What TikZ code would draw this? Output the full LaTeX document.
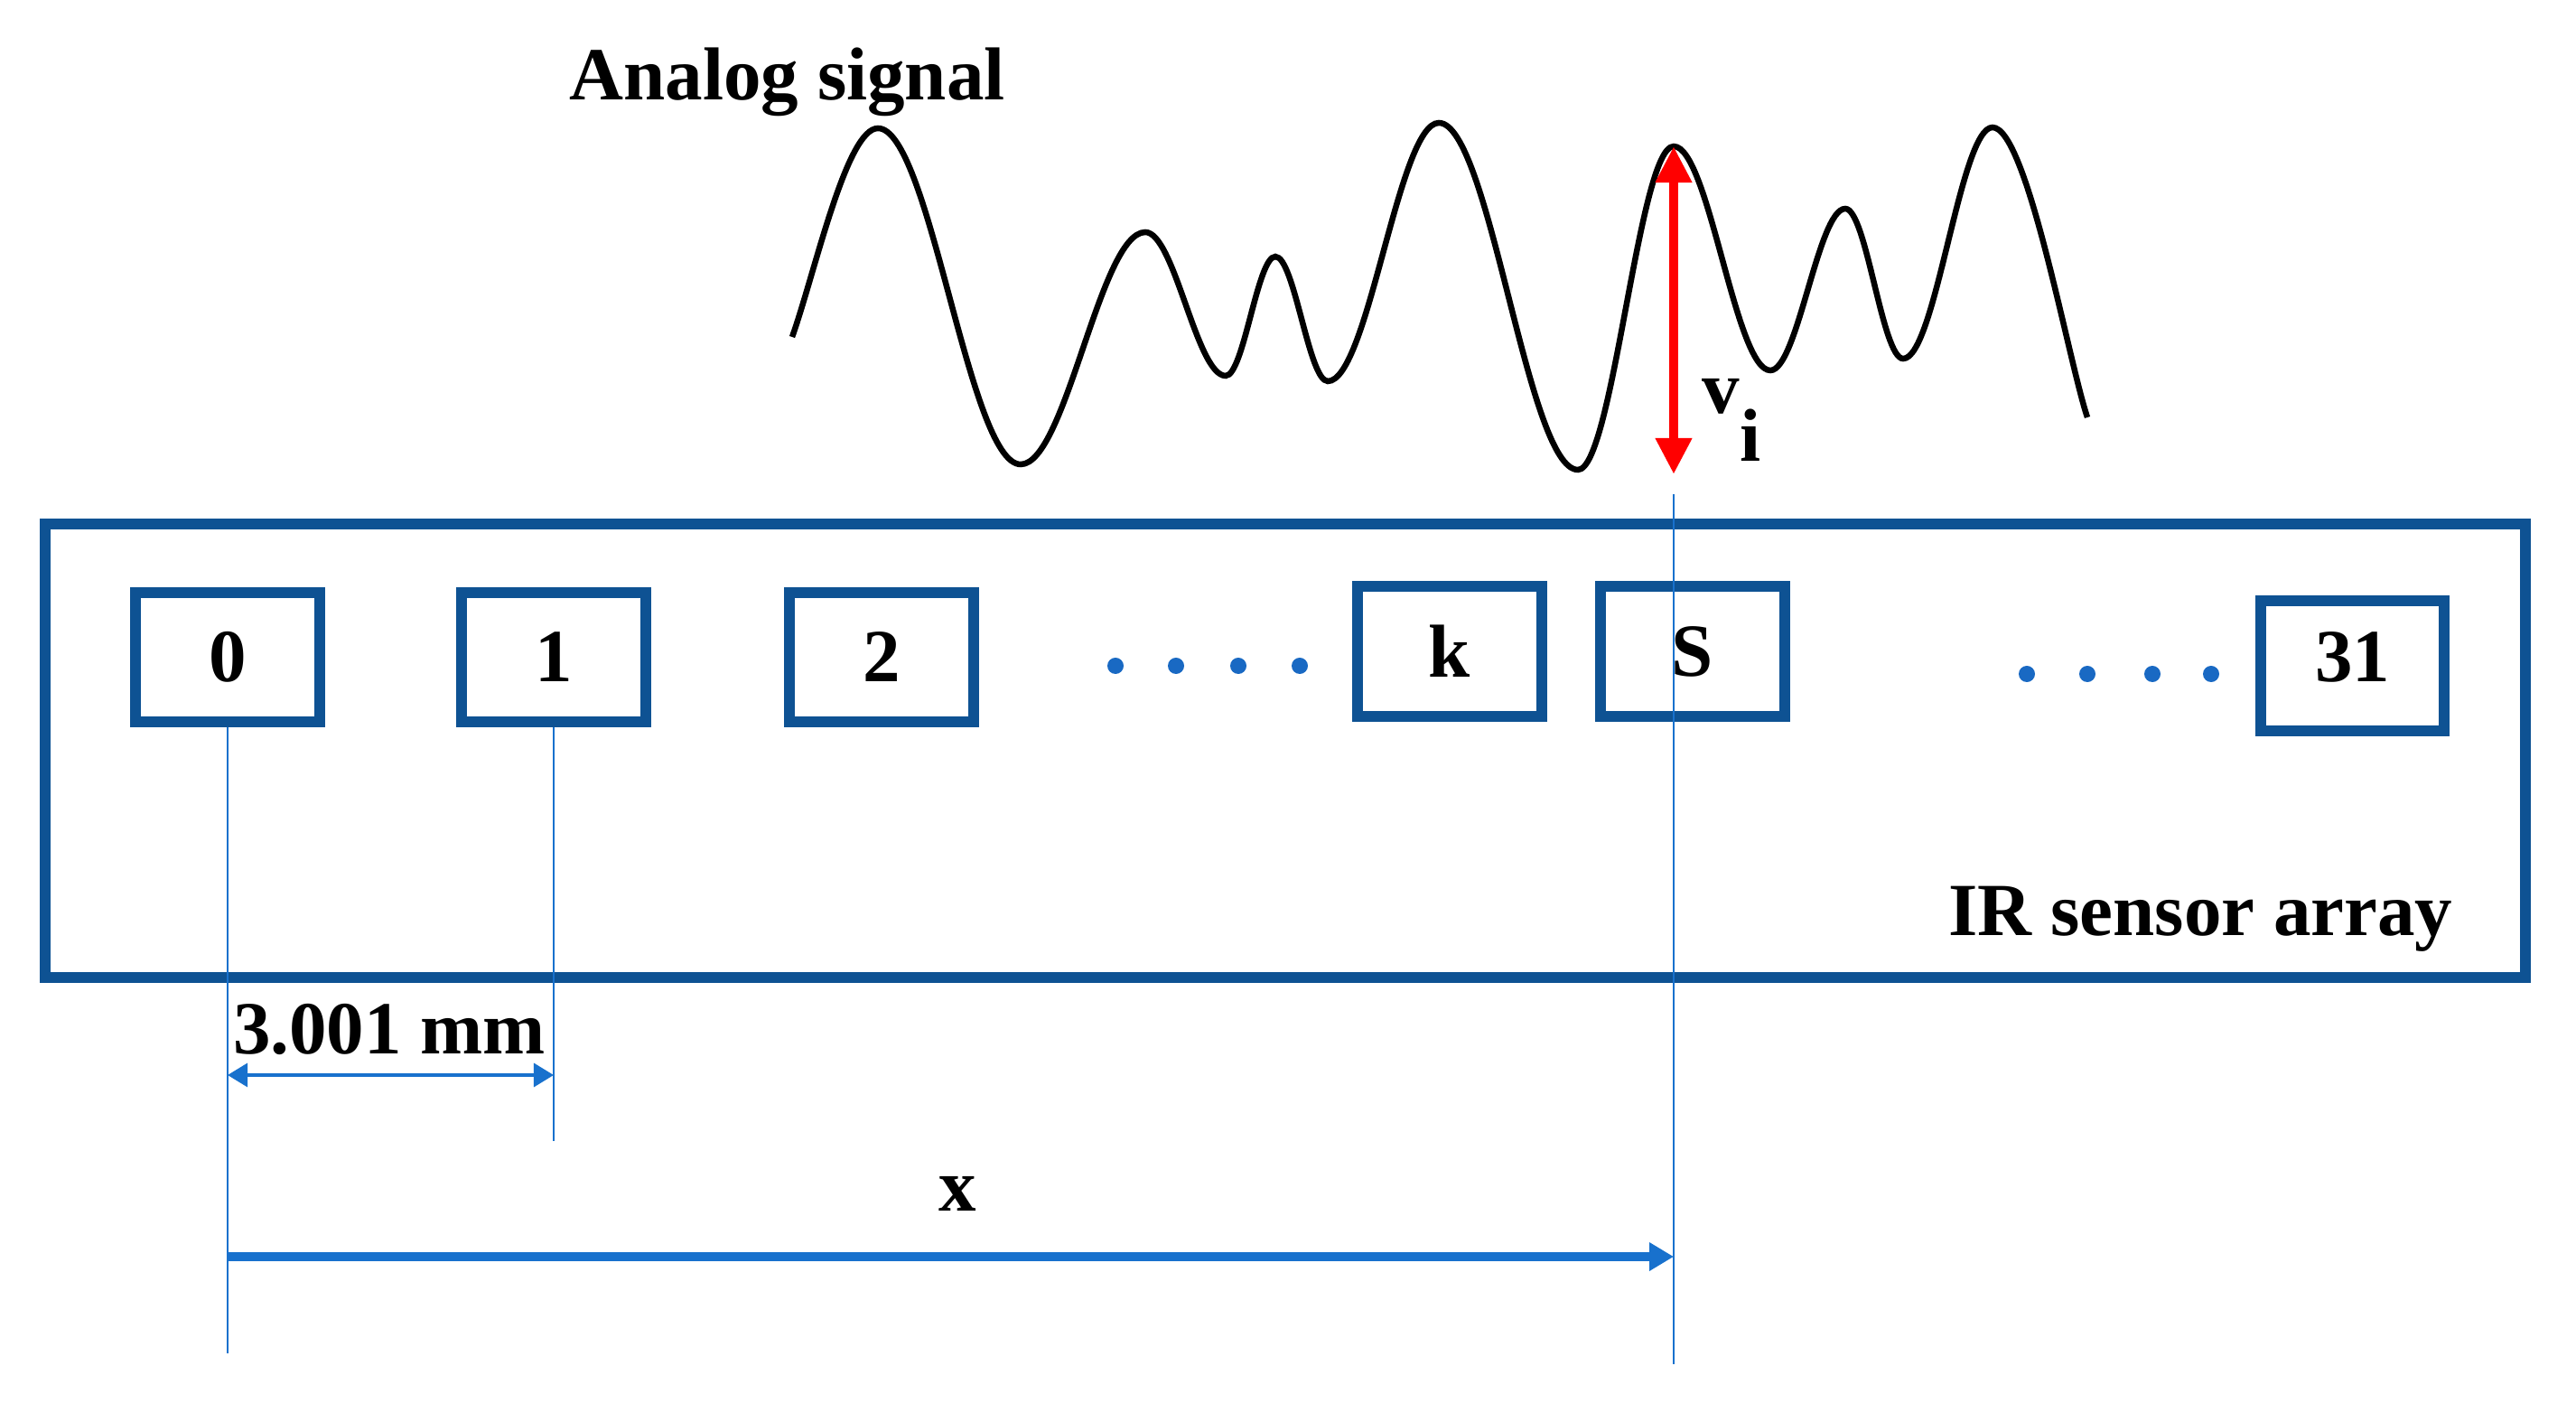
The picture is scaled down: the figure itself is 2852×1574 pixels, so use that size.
\documentclass[tikz,border=0pt]{standalone}
\usepackage{fontspec}
\setmainfont{Liberation Serif}
\usetikzlibrary{arrows.meta}
\definecolor{boxblue}{RGB}{14,82,147}
\definecolor{dimblue}{RGB}{24,113,205}
\definecolor{dotblue}{RGB}{25,105,195}
\definecolor{vred}{RGB}{255,0,0}
\begin{document}
\begin{tikzpicture}[x=0.01cm,y=-0.01cm,
  lbl/.style={font=\fontsize{23.6}{28}\selectfont\bfseries, inner sep=0pt, text=black},
  cell/.style={draw=boxblue, line width=0.12cm, minimum width=2.03cm, minimum height=1.43cm,
               inner sep=0pt, font=\fontsize{23.6}{28}\selectfont\bfseries},
  frame/.style={draw=boxblue, line width=0.12cm, minimum width=27.44cm, minimum height=5.02cm, inner sep=0pt},
  guide/.style={draw=dimblue, line width=0.7pt},
  dimarrow/.style={draw=dimblue, line width=0.9pt, {Triangle[length=0.22cm,width=0.26cm]}-{Triangle[length=0.22cm,width=0.26cm]}},
  xarrow/.style={draw=dimblue, line width=0.1cm, -{Triangle[length=0.27cm,width=0.30cm]}},
  varrow/.style={draw=vred, line width=0.1cm, {Triangle[length=0.40cm,width=0.38cm]}-{Triangle[length=0.40cm,width=0.38cm]}},
  wave/.style={draw=black, line width=0.065cm},
  dot/.style={circle, fill=dotblue, inner sep=0pt, minimum size=0.18cm}
]
\useasboundingbox (0,0) rectangle (2852,1574);

% title
\node[lbl, anchor=base west] (title) at (630,111) {Analog signal};

% analog waveform
\draw[wave] (877,373) .. controls (902,303) and (937,142) .. (972,142)
 .. controls (1029.5,142) and (1072.5,514) .. (1130,514)
 .. controls (1180.2,514) and (1217.8,257) .. (1268,257)
 .. controls (1300.4,257) and (1324.6,416) .. (1357,416)
 .. controls (1377,416) and (1392,284) .. (1412,284)
 .. controls (1433.1,284) and (1448.9,422) .. (1470,422)
 .. controls (1514.8,422) and (1548.2,136) .. (1593,136)
 .. controls (1649.1,136) and (1690.9,520) .. (1747,520)
 .. controls (1785.6,520) and (1814.4,162) .. (1853,162)
 .. controls (1891.9,162) and (1921.1,410) .. (1960,410)
 .. controls (1990.2,410) and (2012.8,231) .. (2043,231)
 .. controls (2066.3,231) and (2083.7,397) .. (2107,397)
 .. controls (2143,397) and (2170,141) .. (2206,141)
 .. controls (2244,141) and (2290,400) .. (2311,462);

% sensor array frame and cells
\node[frame] (array) at (1423,831) {};
\node[cell] (b0) at (252,727.5) {0};
\node[cell] (b1) at (613,727.5) {1};
\node[cell] (b2) at (976,727.5) {2};
\node[cell] (bk) at (1605,721) {k};
\node[cell] (bS) at (1874,721) {S};
\node[cell] (b31) at (2604.5,737) {\raisebox{0.2cm}{31}};

% dots
\node[dot] (dl1) at (1235,737) {};
\node[dot] (dl2) at (1302,737) {};
\node[dot] (dl3) at (1371,737) {};
\node[dot] (dl4) at (1439,737) {};
\node[dot] (dr1) at (2244,746) {};
\node[dot] (dr2) at (2311,746) {};
\node[dot] (dr3) at (2383,746) {};
\node[dot] (dr4) at (2448,746) {};

\node[lbl, anchor=base east] (irlabel) at (2716,1036) {IR sensor array};

% guide lines
\coordinate (l0end) at (252,1498);
\coordinate (l1end) at (613,1263);
\coordinate (stop) at (1853,547);
\coordinate (sbot) at (1853,1510);
\draw[guide] (b0.south) -- (l0end);
\draw[guide] (b1.south) -- (l1end);
\draw[guide] (stop) -- (sbot);

% v_i arrow
\coordinate (vtop) at (1853,162);
\coordinate (vbot) at (1853,525);
\draw[varrow] (vbot) -- (vtop);
\node[lbl, anchor=base west] (vlabel) at (1884,458) {v\raisebox{-0.52cm}{i}};

% pitch dimension
\coordinate (p0) at (252,1190);
\coordinate (p1) at (613,1190);
\draw[dimarrow] (p0) -- (p1);
\node[lbl, anchor=base] (pitch) at (431,1166) {3.001 mm};

% x dimension
\coordinate (x0) at (252,1391);
\coordinate (x1) at (1853,1391);
\draw[xarrow] (x0) -- (x1);
\node[lbl, anchor=base] (xlabel) at (1060,1340) {x};
\end{tikzpicture}
\end{document}
